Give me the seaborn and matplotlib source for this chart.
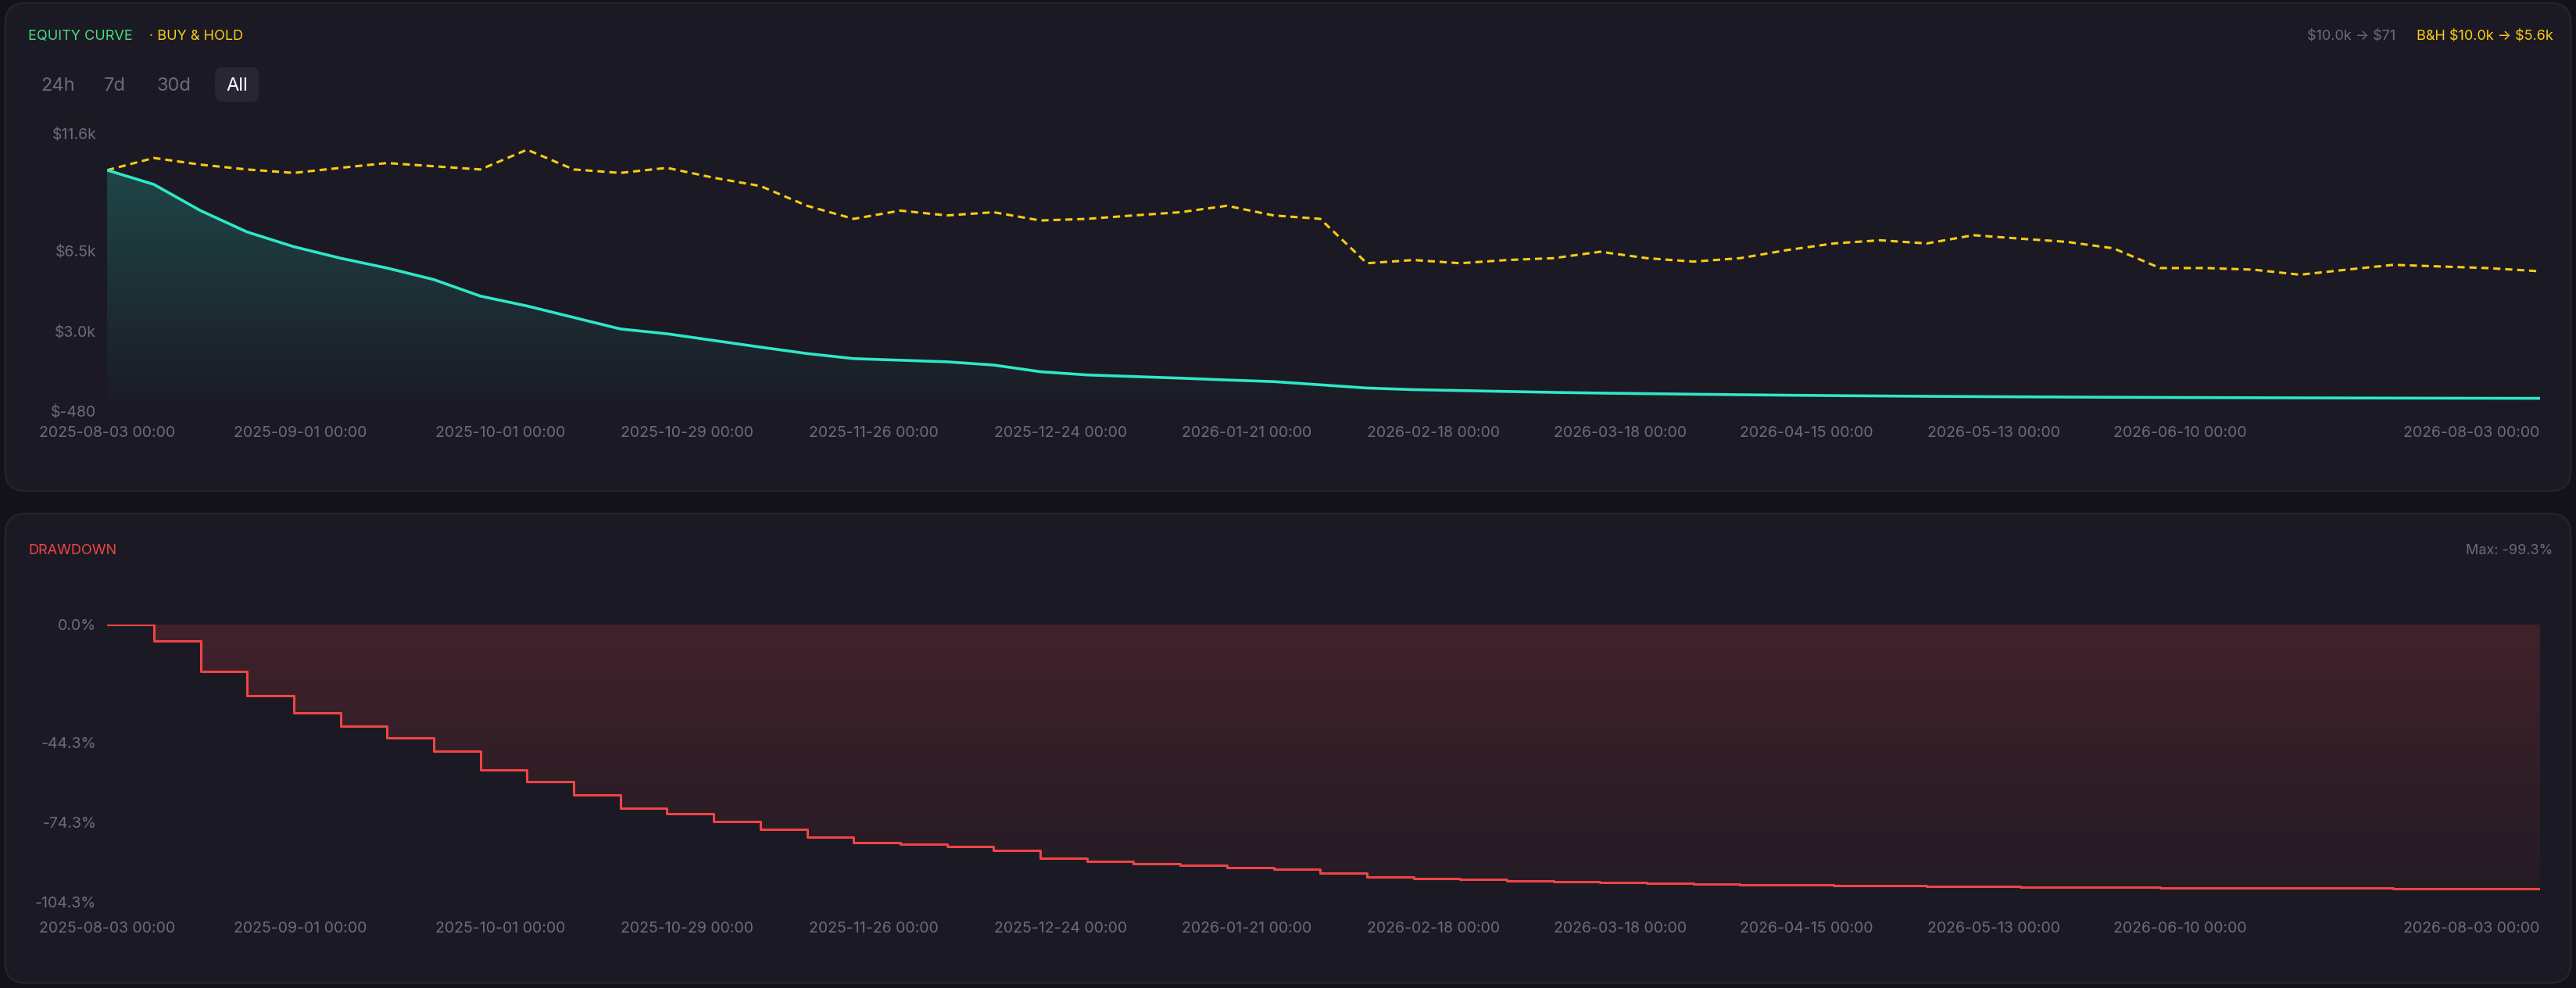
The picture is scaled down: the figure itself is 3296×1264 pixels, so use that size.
import numpy as np
import pandas as pd
import matplotlib
matplotlib.use("Agg")
import matplotlib.pyplot as plt
import seaborn as sns
from matplotlib.patches import FancyBboxPatch
from matplotlib.colors import to_rgb
import matplotlib.dates as mdates

equity = [10000, 9380, 8240, 7310, 6670, 6170, 5740, 5240, 4520, 4090, 3590, 3090, 2880,
          2590, 2300, 2020, 1800, 1730, 1660, 1520, 1230, 1090, 1020, 950, 870, 800, 660,
          520, 450, 410, 370, 330, 300, 275, 250, 228, 208, 190, 175, 160, 148, 137, 127,
          118, 110, 103, 97, 91, 86, 82, 78, 74, 71]
buy_hold = [10000, 10530, 10240, 10030, 9880, 10100, 10310, 10170, 10030, 10890, 10030, 9880,
            10100, 9670, 9310, 8450, 7880, 8240, 8030, 8170, 7810, 7880, 8030, 8170, 8450,
            8030, 7880, 5950, 6090, 5950, 6090, 6170, 6450, 6170, 6020, 6170, 6520, 6810,
            6950, 6810, 7170, 7020, 6880, 6600, 5740, 5740, 5670, 5450, 5670, 5880, 5810,
            5740, 5600]
dates = pd.date_range("2025-08-03", periods=len(equity), freq="7D")
dates = dates[:-1].append(pd.DatetimeIndex(["2026-08-03"]))
tick_labels = ["2025-08-03 00:00", "2025-09-01 00:00", "2025-10-01 00:00", "2025-10-29 00:00",
               "2025-11-26 00:00", "2025-12-24 00:00", "2026-01-21 00:00", "2026-02-18 00:00",
               "2026-03-18 00:00", "2026-04-15 00:00", "2026-05-13 00:00", "2026-06-10 00:00",
               "2026-08-03 00:00"]
eq_ticks = [-480, 3000, 6500, 11600]
eq_tick_labels = ["\\$-480", "\\$3.0k", "\\$6.5k", "\\$11.6k"]
dd_ticks = [-104.3, -74.3, -44.3, 0.0]

eq = np.array(equity, dtype=float)
drawdown = (eq / np.maximum.accumulate(eq) - 1) * 100
df = pd.DataFrame({"date": dates, "equity": equity, "bh": buy_hold, "dd": drawdown})

sns.set_theme(style="dark")
plt.rcParams["font.family"] = ["Inter", "DejaVu Sans"]
BG = "#131219"
CARD = "#1b1a24"
GREY = "#6b6b80"
TEAL = "#2ee8c8"
YEL = "#facc15"
RED = "#ef4444"

fig = plt.figure(figsize=(16.48, 6.32), dpi=200, facecolor=BG)
for y0, h in [(0.503, 0.494), (0.005, 0.475)]:
    fig.patches.append(FancyBboxPatch((0.002, y0), 0.996, h, boxstyle="round,pad=0,rounding_size=0.008",
                                      transform=fig.transFigure, facecolor=CARD, edgecolor="#24232e",
                                      linewidth=0.8, mutation_aspect=2.6, zorder=-10))

xmin, xmax = pd.Timestamp("2025-08-03"), pd.Timestamp("2026-08-03")
tick_dates = pd.to_datetime([t[:10] for t in tick_labels])


def gradient_fill(ax, poly, color, a_top, a_bot, ylim):
    rgb = to_rgb(color)
    img = np.zeros((100, 1, 4))
    img[:, 0, :3] = rgb
    img[:, 0, 3] = np.linspace(a_top, a_bot, 100)
    im = ax.imshow(img, aspect="auto", origin="upper", zorder=1,
                   extent=[mdates.date2num(xmin), mdates.date2num(xmax), ylim[0], ylim[1]])
    im.set_clip_path(poly.get_paths()[0], transform=ax.transData)


def style(ax, yticks, ylabels, ylim):
    ax.set_facecolor("none")
    ax.set_xlim(xmin, xmax)
    ax.set_ylim(*ylim)
    ax.set_yticks(yticks)
    ax.set_yticklabels(ylabels)
    ax.set_xticks(tick_dates)
    ax.set_xticklabels(tick_labels)
    ax.get_xticklabels()[-1].set_ha("right")
    ax.tick_params(colors=GREY, labelsize=7, length=0, pad=5)
    ax.set_xlabel("")
    ax.set_ylabel("")
    ax.grid(False)
    for s in ax.spines.values():
        s.set_visible(False)


ax1 = fig.add_axes([0.0416, 0.584, 0.9444, 0.281])
poly1 = ax1.fill_between(df["date"], -480, df["equity"], color="none", linewidth=0)
gradient_fill(ax1, poly1, TEAL, 0.25, 0.0, (-480, 11600))
sns.lineplot(data=df, x="date", y="bh", ax=ax1, color=YEL, linewidth=1.1, linestyle=(0, (3, 2)), zorder=3)
sns.lineplot(data=df, x="date", y="equity", ax=ax1, color=TEAL, linewidth=1.3, zorder=4)
style(ax1, eq_ticks, eq_tick_labels, (-480, 11600))
ax1.tick_params(axis="x", pad=7)

ax2 = fig.add_axes([0.0416, 0.087, 0.9444, 0.281])
poly2 = ax2.fill_between(df["date"], 0, df["dd"], step="post", color="none", linewidth=0)
gradient_fill(ax2, poly2, RED, 0.18, 0.04, (-104.3, 0))
ax2.step(df["date"], df["dd"], where="post", color=RED, linewidth=1.1, zorder=3)
style(ax2, dd_ticks, [f"{v:.1f}%" for v in dd_ticks], (-104.3, 0))
ax2.tick_params(axis="x", pad=9)

fig.text(0.011, 0.963, "EQUITY CURVE", color="#4ade80", fontsize=6.5, va="center")
fig.text(0.058, 0.963, "· BUY & HOLD", color=YEL, fontsize=6.5, va="center")
for x, lab in [(0.0225, "24h"), (0.0445, "7d"), (0.0675, "30d")]:
    fig.text(x, 0.913, lab, color=GREY, fontsize=8.5, va="center", ha="center")
fig.patches.append(FancyBboxPatch((0.0835, 0.897), 0.017, 0.035, boxstyle="round,pad=0,rounding_size=0.003",
                                  transform=fig.transFigure, facecolor="#272634", edgecolor="none",
                                  mutation_aspect=2.6, zorder=-5))
fig.text(0.092, 0.913, "All", color="white", fontsize=8.5, va="center", ha="center")
fig.text(0.93, 0.963, "\\$10.0k → \\$71", color=GREY, fontsize=6.5, va="center", ha="right")
fig.text(0.991, 0.963, "B&H \\$10.0k → \\$5.6k", color=YEL, fontsize=6.5, va="center", ha="right")
fig.text(0.011, 0.443, "DRAWDOWN", color=RED, fontsize=6.5, va="center")
fig.text(0.991, 0.443, "Max: -99.3%", color=GREY, fontsize=6.5, va="center", ha="right")

fig.savefig("out.png", dpi=200, facecolor=BG)
